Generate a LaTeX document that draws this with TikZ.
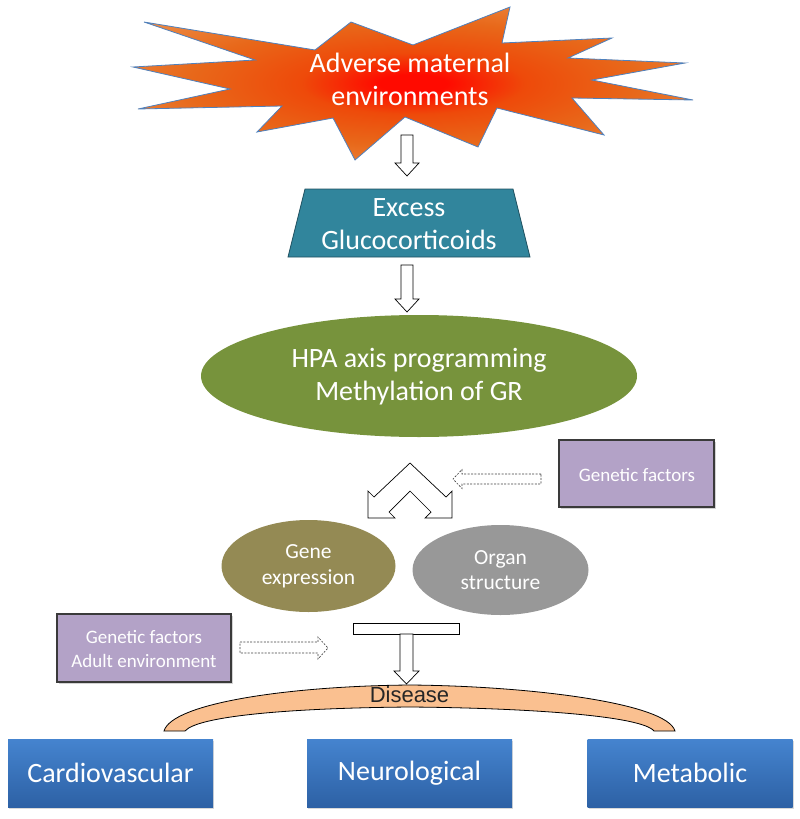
\documentclass[tikz,border=0pt]{standalone}
\usepackage{fontspec}
\setmainfont{Carlito}
\newfontfamily\arialfont{Liberation Sans}
\usetikzlibrary{shapes.geometric,shadows}
\definecolor{burstA}{HTML}{FF0A00}
\definecolor{burstB}{HTML}{EE4A0A}
\definecolor{burstC}{HTML}{E8681A}
\definecolor{burstD}{HTML}{EE9550}
\definecolor{burstE}{HTML}{F2B080}
\definecolor{starblue}{HTML}{4F81BD}
\definecolor{trapteal}{HTML}{31859C}
\definecolor{trapedge}{HTML}{1F4F5E}
\definecolor{hpagreen}{HTML}{77933C}
\definecolor{geneolive}{HTML}{948A54}
\definecolor{organgray}{HTML}{989898}
\definecolor{lilac}{HTML}{B3A2C7}
\definecolor{lilacedge}{HTML}{3A3A3A}
\definecolor{diseaseor}{HTML}{FAC090}
\definecolor{boxtop}{HTML}{4584CF}
\definecolor{boxbot}{HTML}{2D61A5}
\pgfdeclareradialshading{burst}{\pgfpoint{0bp}{0bp}}{color(0bp)=(burstA); color(3bp)=(burstA); color(10bp)=(burstB); color(20bp)=(burstC); color(34bp)=(burstD); color(50bp)=(burstE)}
\begin{document}
\begin{tikzpicture}[x=1pt,y=-1pt,
  bigtxt/.style={font=\fontsize{28}{33}\selectfont, text=white, align=center, inner sep=0pt},
  midtxt/.style={font=\fontsize{21.5}{25.5}\selectfont, text=white, align=center, inner sep=0pt},
  smalltxt/.style={font=\fontsize{19}{24}\selectfont, text=white, align=center, inner sep=0pt},
  hollow/.style={draw=black, fill=white, line width=0.7pt, line join=miter},
  dashhollow/.style={draw=black!75, fill=white, line width=0.6pt, dash pattern=on 2pt off 1.4pt},
  lilacbox/.style={rectangle, fill=lilac, draw=lilacedge, line width=1.1pt, inner sep=0pt,
     drop shadow={shadow xshift=1.5pt, shadow yshift=-1.5pt, opacity=0.35}},
  bluebox/.style={rectangle, top color=boxtop, bottom color=boxbot, draw=none, inner sep=0pt,
     minimum width=205pt, minimum height=68pt, text=white, font=\fontsize{28}{33}\selectfont,
     drop shadow={shadow xshift=1pt, shadow yshift=-1.5pt, opacity=0.3}},
  ell/.style={ellipse, draw=none, inner sep=0pt}
]
\useasboundingbox (0,0) rectangle (800,819);

% starburst
\path[draw=starblue, line width=0.8pt, shading=burst]
  (144,22) -- (315,50) -- (351,22) -- (413,45) -- (510,7) -- (502,43) -- (612,38)
  -- (568,58) -- (685,63) -- (592,80) -- (693,100) -- (572,98) -- (604,135)
  -- (497,108) -- (478,147) -- (405,117) -- (355,160) -- (333,118) -- (257,132)
  -- (282,106) -- (138,109) -- (230,89) -- (133,67) -- (255,60) -- cycle;
\node[bigtxt] (adv) at (410,79) {Adverse maternal\\environments};

% arrow 1
\draw[hollow] (401,135) -- (413,135) -- (413,163) -- (419,163) -- (407,176) -- (395,163) -- (401,163) -- cycle;

% trapezoid
\draw[fill=trapteal, draw=trapedge, line width=0.8pt] (305,189) -- (513,189) -- (530,257) -- (288,257) -- cycle;
\node[bigtxt] (exc) at (409,224) {Excess\\Glucocorticoids};

% arrow 2
\draw[hollow] (401,265) -- (413,265) -- (413,299) -- (419,299) -- (407,312) -- (395,299) -- (401,299) -- cycle;

% HPA ellipse
\node[ell, fill=hpagreen, minimum width=436pt, minimum height=122pt] (hpa) at (419,376) {};
\node[bigtxt] (hpatxt) at (419,377) {HPA axis programming\\Methylation of GR};

% chevron double arrow
\draw[hollow] (410,463) -- (446,497) -- (452,491) -- (452,518) -- (425,518) -- (431,512)
  -- (410,491) -- (389,512) -- (395,518) -- (368,518) -- (368,491) -- (374,497) -- cycle;

% genetic factors right
\node[lilacbox, minimum width=155pt, minimum height=67pt] (gen1) at (636.5,473.5) {};
\node[smalltxt] (gen1txt) at (637,475) {Genetic factors};
\draw[dashhollow] (541,474) -- (462,474) -- (462,469.5) -- (453,479) -- (462,488.5) -- (462,484) -- (541,484) -- cycle;

% gene / organ ellipses
\node[ell, fill=geneolive, minimum width=174pt, minimum height=92pt, midtxt] (gene) at (308.5,566) {Gene\\expression};
\node[ell, fill=organgray, minimum width=176pt, minimum height=90pt, midtxt] (organ) at (500.5,570) {Organ\\structure};

% genetic factors left
\node[lilacbox, minimum width=174pt, minimum height=68pt] (gen2) at (144,648) {};
\node[smalltxt] (gen2txt) at (144,649) {Genetic factors\\Adult environment};
\draw[dashhollow] (240,642) -- (318,642) -- (318,637) -- (328,648) -- (318,659) -- (318,653) -- (240,653) -- cycle;

% disease arc
\draw[fill=diseaseor, draw=black, line width=0.8pt]
  (164,731) .. controls (172,703) and (290,686) .. (410,685)
  .. controls (530,686) and (667,703) .. (675,731)
  -- (654,731) .. controls (642,716) and (530,708) .. (410,707)
  .. controls (290,708) and (198,716) .. (185,731) -- cycle;
\node[font=\arialfont\fontsize{22}{26}\selectfont, text=black!85, anchor=base, inner sep=0pt] (dis) at (409.5,702) {Disease};

% T arrow
\draw[hollow] (353,623) rectangle (459,634);
\draw[hollow] (400,634) -- (413,634) -- (413,671) -- (419,671) -- (406.5,684) -- (394,671) -- (400,671) -- cycle;

% bottom boxes
\node[bluebox] (cardio) at (110.5,773) {Cardiovascular};
\node[bluebox] (neuro) at (409.5,773) {Neurological};
\node[bluebox] (meta) at (690,773) {Metabolic};
\end{tikzpicture}
\end{document}
